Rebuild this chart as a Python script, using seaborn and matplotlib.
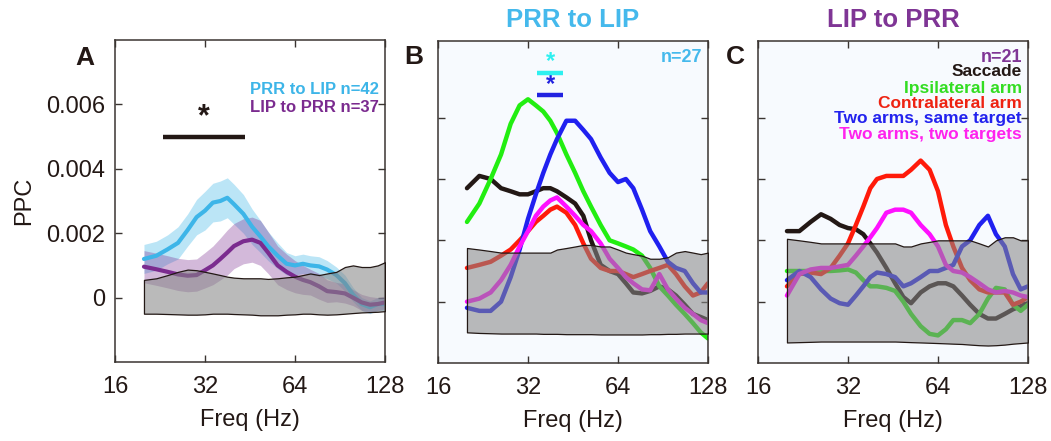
import numpy as np
import pandas as pd
import matplotlib
matplotlib.use("Agg")
import matplotlib.pyplot as plt
import seaborn as sns

# ---------------- data ----------------
freqs = [20, 22, 24, 26, 28, 30, 32, 34, 36, 38, 40, 43, 46, 49, 52, 56, 60, 64,
         68, 72, 77, 82, 88, 94, 100, 107, 114, 121, 128]

# Panel A
a_prr_lip = [0.0012, 0.0013, 0.0015, 0.0017, 0.0021, 0.0025, 0.0027, 0.00295, 0.0030, 0.0031,
             0.0029, 0.0026, 0.0022, 0.0019, 0.0016, 0.0013, 0.00105, 0.001, 0.00105, 0.001,
             0.00097, 0.00087, 0.0007, 0.00045, 0.0001, -0.0002, -0.0003, -0.0002, -0.0002]
a_prr_lip_sem = [0.00045, 0.00045, 0.00045, 0.0005, 0.0005, 0.00055, 0.0006, 0.0006, 0.00062, 0.00062,
                 0.00062, 0.0006, 0.00055, 0.0005, 0.00045, 0.0004, 0.00035, 0.0003, 0.0003, 0.0003,
                 0.0003, 0.00028, 0.00025, 0.00025, 0.00022, 0.0002, 0.0002, 0.0002, 0.0002]
a_lip_prr = [0.00096, 0.00088, 0.0008, 0.00072, 0.00068, 0.0007, 0.00085, 0.001, 0.0012, 0.0014,
             0.0016, 0.00175, 0.0018, 0.0017, 0.0014, 0.001, 0.0008, 0.00065, 0.00055, 0.00048,
             0.00035, 0.0002, 0.00017, 0.00013, 0.0, -0.00015, -0.00022, -0.0002, -0.00015]
a_lip_prr_sem = [0.0005, 0.0005, 0.0005, 0.0005, 0.0005, 0.0005, 0.00055, 0.0006, 0.00065, 0.0007,
                 0.0007, 0.0007, 0.0007, 0.0007, 0.00065, 0.0006, 0.00055, 0.0005, 0.00045, 0.0004,
                 0.0004, 0.00035, 0.0003, 0.0003, 0.00025, 0.00025, 0.00025, 0.0002, 0.0002]
a_null_hi = [0.00055, 0.0006, 0.0007, 0.0008, 0.00087, 0.00085, 0.0008, 0.00075, 0.0007, 0.00065,
             0.00062, 0.0006, 0.0006, 0.0006, 0.00058, 0.0006, 0.00063, 0.00065, 0.0007, 0.00075,
             0.0007, 0.00075, 0.0008, 0.00095, 0.001, 0.00095, 0.00095, 0.001, 0.0011]
a_null_lo = [-0.0005, -0.0005, -0.00051, -0.00052, -0.00053, -0.00053, -0.00052, -0.0005, -0.0005, -0.0005,
             -0.00051, -0.00052, -0.00053, -0.00055, -0.00055, -0.00055, -0.00053, -0.00052, -0.0005, -0.0005,
             -0.00052, -0.00053, -0.00052, -0.0005, -0.00048, -0.00046, -0.00045, -0.00044, -0.00042]
a_sig_range = [23.2, 43.5]
a_sig_level = 0.005

# Panel B (PRR to LIP)
b_saccade = [0.0037, 0.0041, 0.0040, 0.0037, 0.0036, 0.0035, 0.0035, 0.0036, 0.0037, 0.0037,
             0.0036, 0.0034, 0.0032, 0.0028, 0.0020, 0.0012, 0.0010, 0.0009, 0.0006, 0.0003,
             0.00027, 0.00035, 0.0005, 0.0004, 0.0002, -0.0001, -0.0004, -0.0005, -0.0006]
b_ipsi = [0.0026, 0.0032, 0.0040, 0.0048, 0.0058, 0.0064, 0.0066, 0.0064, 0.0062, 0.0059,
          0.0055, 0.0048, 0.0042, 0.0036, 0.0031, 0.0025, 0.0020, 0.0019, 0.0018, 0.0017,
          0.0015, 0.0011, 0.0005, 0.0002, -0.0001, -0.0004, -0.0007, -0.0010, -0.0012]
b_contra = [0.0011, 0.0012, 0.0013, 0.0015, 0.0017, 0.0020, 0.0023, 0.0026, 0.0028, 0.0030,
            0.0031, 0.0029, 0.0025, 0.0019, 0.0014, 0.0011, 0.0010, 0.0010, 0.0009, 0.0008,
            0.0009, 0.0010, 0.0011, 0.0012, 0.0009, 0.0005, 0.0002, 0.0003, 0.0006]
b_same = [-0.0002, -0.0003, -0.0003, 0.0, 0.0008, 0.0017, 0.0027, 0.0035, 0.0042, 0.0048,
          0.0053, 0.0059, 0.0059, 0.0056, 0.0053, 0.0047, 0.0042, 0.0039, 0.0040, 0.0037,
          0.0030, 0.0023, 0.0018, 0.0013, 0.0011, 0.0010, 0.0006, 0.0003, 0.0003]
b_two = [0.0, 0.0001, 0.0003, 0.0007, 0.0012, 0.0018, 0.0023, 0.0028, 0.0031, 0.0033,
         0.0034, 0.0031, 0.0028, 0.0025, 0.0023, 0.0019, 0.0014, 0.0011, 0.0008, 0.0006,
         0.0004, 0.00037, 0.0009, 0.0004, 0.0001, -0.0002, -0.0004, -0.0006, -0.0007]
b_null_hi = [0.00175, 0.0017, 0.00165, 0.0016, 0.0016, 0.0016, 0.0016, 0.0016, 0.0016, 0.0016,
             0.0017, 0.00175, 0.0018, 0.00185, 0.00185, 0.0018, 0.0018, 0.0017, 0.0016, 0.00155,
             0.0015, 0.0014, 0.0014, 0.00145, 0.0016, 0.00165, 0.0016, 0.00155, 0.0016]
b_null_lo = [-0.0010, -0.00102, -0.00103, -0.00104, -0.00104, -0.00104, -0.00104, -0.00104, -0.00105, -0.00105,
             -0.00105, -0.00106, -0.00106, -0.00106, -0.00106, -0.00107, -0.00107, -0.00107, -0.00107, -0.00107,
             -0.00107, -0.00106, -0.00106, -0.00105, -0.00105, -0.00104, -0.00104, -0.00104, -0.00104]
b_sig_range = [34.3, 41.9]
b_sig_levels = [0.00747, 0.00674]

# Panel C (LIP to PRR)
c_saccade = [0.0023, 0.0023, 0.0026, 0.00285, 0.0027, 0.0025, 0.0024, 0.00236, 0.0022, 0.0019,
             0.0016, 0.0011, 0.0006, 0.00015, -0.00005, 0.0003, 0.0005, 0.0006, 0.0006, 0.0005,
             0.0002, -0.0001, -0.0004, -0.00055, -0.00055, -0.0004, -0.00025, -0.00015, -0.00005]
c_ipsi = [0.001, 0.001, 0.001, 0.001, 0.001, 0.00102, 0.00105, 0.00095, 0.0007, 0.0005,
          0.0005, 0.00045, 0.00035, 0.0, -0.0004, -0.0008, -0.00105, -0.0011, -0.0009, -0.0006,
          -0.0006, -0.0007, -0.0004, 0.0001, 0.00045, 0.0004, -0.0001, -0.0003, -0.0001]
c_contra = [0.0005, 0.0009, 0.00095, 0.0009, 0.0011, 0.0015, 0.0019, 0.0025, 0.0031, 0.0037,
            0.0040, 0.0041, 0.0041, 0.0041, 0.0043, 0.0046, 0.0043, 0.0036, 0.0025, 0.0018,
            0.0011, 0.0007, 0.0004, 0.0003, 0.0003, 0.0003, -0.0001, 0.0, 0.00015]
c_same = [0.0007, 0.001, 0.0008, 0.0004, 0.0001, -0.00005, -0.0001, 0.0002, 0.0005, 0.0008,
          0.00095, 0.0009, 0.0008, 0.0005, 0.0006, 0.0008, 0.001, 0.001, 0.0011, 0.0012,
          0.0018, 0.0020, 0.0025, 0.0028, 0.0022, 0.0018, 0.0009, 0.0004, 0.0005]
c_two = [0.0002, 0.0009, 0.00105, 0.0011, 0.0011, 0.00115, 0.0012, 0.0015, 0.0018, 0.0021,
         0.0024, 0.0029, 0.0030, 0.0030, 0.0029, 0.0025, 0.0022, 0.0018, 0.0012, 0.0010,
         0.00095, 0.0008, 0.0006, 0.0004, 0.0003, 0.00035, 0.0003, 0.0002, 0.00015]
c_null_hi = [0.00205, 0.002, 0.00195, 0.0019, 0.0019, 0.0019, 0.0019, 0.0019, 0.0019, 0.0019,
             0.0019, 0.0019, 0.0019, 0.0018, 0.0018, 0.0019, 0.00195, 0.002, 0.002, 0.002,
             0.002, 0.002, 0.0019, 0.0018, 0.002, 0.0021, 0.0021, 0.002, 0.002]
c_null_lo = [-0.00133, -0.00132, -0.00131, -0.0013, -0.0013, -0.0013, -0.0013, -0.0013, -0.0013, -0.0013,
             -0.0013, -0.0013, -0.0013, -0.00131, -0.00132, -0.00133, -0.00134, -0.00135, -0.00136, -0.00137,
             -0.00138, -0.0014, -0.00142, -0.00143, -0.00142, -0.0014, -0.00137, -0.00135, -0.00133]

condition_names = ["Saccade", "Ipsilateral arm", "Contralateral arm",
                   "Two arms, same target", "Two arms, two targets"]
x_ticks = [16, 32, 64, 128]
y_ticks = [0, 0.002, 0.004, 0.006]
y_ticklabels = ["0", "0.002", "0.004", "0.006"]

# ---------------- style ----------------
sns.set_theme(style="ticks")
plt.rcParams["font.family"] = ["Liberation Sans", "DejaVu Sans"]
TXT = "#231815"
plt.rcParams["text.color"] = TXT
plt.rcParams["axes.edgecolor"] = "#3a3431"
plt.rcParams["xtick.color"] = "#3a3431"
plt.rcParams["ytick.color"] = "#3a3431"
plt.rcParams["xtick.labelcolor"] = TXT
plt.rcParams["ytick.labelcolor"] = TXT

CYAN = "#3db5e8"
PURPLE = "#7b2b8f"
cond_colors = ["#231815", "#22ee11", "#ff1a0a", "#2020f0", "#ff10ff"]
cond_text_colors = ["#231815", "#33dd22", "#ee2211", "#2222ee", "#ff22ee"]
NULL_FACE = (0.53, 0.53, 0.53, 0.57)

W, H = 1051, 441
fig = plt.figure(figsize=(W / 100, H / 100), dpi=100)
fig.patch.set_facecolor("white")


def px_axes(x0, x1, y0, y1):
    return fig.add_axes([x0 / W, 1 - y1 / H, (x1 - x0) / W, (y1 - y0) / H])


axA = px_axes(115, 385, 40, 362)
axB = px_axes(438, 708, 41, 363)
axC = px_axes(758, 1028, 41, 363)

for ax in (axA, axB, axC):
    ax.set_xscale("log", base=2)
    ax.set_xlim(16, 128)
    ax.set_xticks(x_ticks)
    ax.set_xticklabels([str(t) for t in x_ticks])
    ax.minorticks_off()
    ax.set_yticks(y_ticks)
    ax.tick_params(direction="in", length=5, width=1, top=True, right=True,
                   labelsize=17, pad=10)
    ax.tick_params(axis="y", pad=7)
    for s in ax.spines.values():
        s.set_visible(True)
        s.set_linewidth(1.1)
    ax.set_xlabel("Freq (Hz)", fontsize=17, labelpad=8, color=TXT)

axA.set_ylim(-0.002, 0.008)
axA.set_yticklabels(y_ticklabels)
axA.set_ylabel("PPC", fontsize=17, labelpad=8, color=TXT)
for ax in (axB, axC):
    ax.set_ylim(-0.002, 0.0085)
    ax.set_yticklabels([])
    ax.set_facecolor("#f7fafe")
    ax.set_ylabel("")

f = np.array(freqs)

# ----- Panel A -----
dfA = pd.DataFrame({
    "freq": freqs * 2,
    "ppc": a_prr_lip + a_lip_prr,
    "dir": ["PRR to LIP"] * len(freqs) + ["LIP to PRR"] * len(freqs),
})
axA.fill_between(f, np.array(a_prr_lip) - np.array(a_prr_lip_sem),
                 np.array(a_prr_lip) + np.array(a_prr_lip_sem),
                 color=CYAN, alpha=0.35, linewidth=0, zorder=1)
axA.fill_between(f, np.array(a_lip_prr) - np.array(a_lip_prr_sem),
                 np.array(a_lip_prr) + np.array(a_lip_prr_sem),
                 color=PURPLE, alpha=0.33, linewidth=0, zorder=1)
sns.lineplot(data=dfA, x="freq", y="ppc", hue="dir",
             palette={"PRR to LIP": CYAN, "LIP to PRR": PURPLE},
             linewidth=3, legend=False, ax=axA, zorder=2)
axA.fill_between(f, a_null_lo, a_null_hi, facecolor=NULL_FACE,
                 edgecolor="#231815", linewidth=0.9, zorder=3)
axA.plot(a_sig_range, [a_sig_level] * 2, color=TXT, linewidth=3.2,
         solid_capstyle="butt", zorder=4)
axA.text(np.sqrt(a_sig_range[0] * a_sig_range[1]), a_sig_level + 0.0006, "*",
         fontsize=22, ha="center", va="center", color=TXT, fontweight="bold")
axA.set_xlabel("Freq (Hz)", fontsize=17, labelpad=8, color=TXT)
axA.set_ylabel("PPC", fontsize=17, labelpad=8, color=TXT)


def draw_conditions(ax, series, null_lo, null_hi):
    df = pd.DataFrame({
        "freq": freqs * len(series),
        "ppc": sum(series, []),
        "cond": sum([[n] * len(freqs) for n in condition_names], []),
    })
    sns.lineplot(data=df, x="freq", y="ppc", hue="cond", hue_order=condition_names,
                 palette=dict(zip(condition_names, cond_colors)),
                 linewidth=3.2, legend=False, ax=ax, zorder=2)
    ax.fill_between(f, null_lo, null_hi, facecolor=NULL_FACE,
                    edgecolor="#231815", linewidth=0.9, zorder=3)
    ax.set_xlabel("Freq (Hz)", fontsize=17, labelpad=8, color=TXT)
    ax.set_ylabel("")


draw_conditions(axB, [b_saccade, b_ipsi, b_contra, b_same, b_two], b_null_lo, b_null_hi)
draw_conditions(axC, [c_saccade, c_ipsi, c_contra, c_same, c_two], c_null_lo, c_null_hi)

# significance markers in B
for lvl, col in zip(b_sig_levels, ["#2ef0f0", "#2222e0"]):
    axB.plot(b_sig_range, [lvl, lvl], color=col, linewidth=3.2,
             solid_capstyle="butt", zorder=4)
    axB.text(np.sqrt(b_sig_range[0] * b_sig_range[1]), lvl + 0.00035, "*",
             fontsize=17, ha="center", va="center", color=col, fontweight="bold")


# ---------------- text ----------------
def ftext(x, y, s, **kw):
    fig.text(x / W, 1 - y / H, s, **kw)


ftext(85, 58, "A", fontsize=19, fontweight="bold", ha="center", va="center", color=TXT)
ftext(414, 57, "B", fontsize=19, fontweight="bold", ha="center", va="center", color=TXT)
ftext(735, 57, "C", fontsize=19, fontweight="bold", ha="center", va="center", color=TXT)
ftext(573, 20, "PRR to LIP", fontsize=18.5, fontweight="bold", ha="center", va="center", color="#45b9ec")
ftext(893, 20, "LIP to PRR", fontsize=18.5, fontweight="bold", ha="center", va="center", color="#7f3595")

ftext(379, 90, "PRR to LIP n=42", fontsize=12, fontweight="bold", ha="right", va="center", color=CYAN)
ftext(379, 107, "LIP to PRR n=37", fontsize=12, fontweight="bold", ha="right", va="center", color=PURPLE)

ftext(702, 57, "n=27", fontsize=13, fontweight="bold", ha="right", va="center", color="#45b9ec")

c_leg_y = [72, 88, 103, 119, 134]
ftext(1022, 57, "n=21", fontsize=13, fontweight="bold", ha="right", va="center", color="#7f3595")
for name, col, yy in zip(condition_names, cond_text_colors, c_leg_y):
    ftext(1022, yy, name, fontsize=12.5, fontweight="bold", ha="right", va="center", color=col)

fig.savefig("out.png", dpi=100, facecolor="white")
